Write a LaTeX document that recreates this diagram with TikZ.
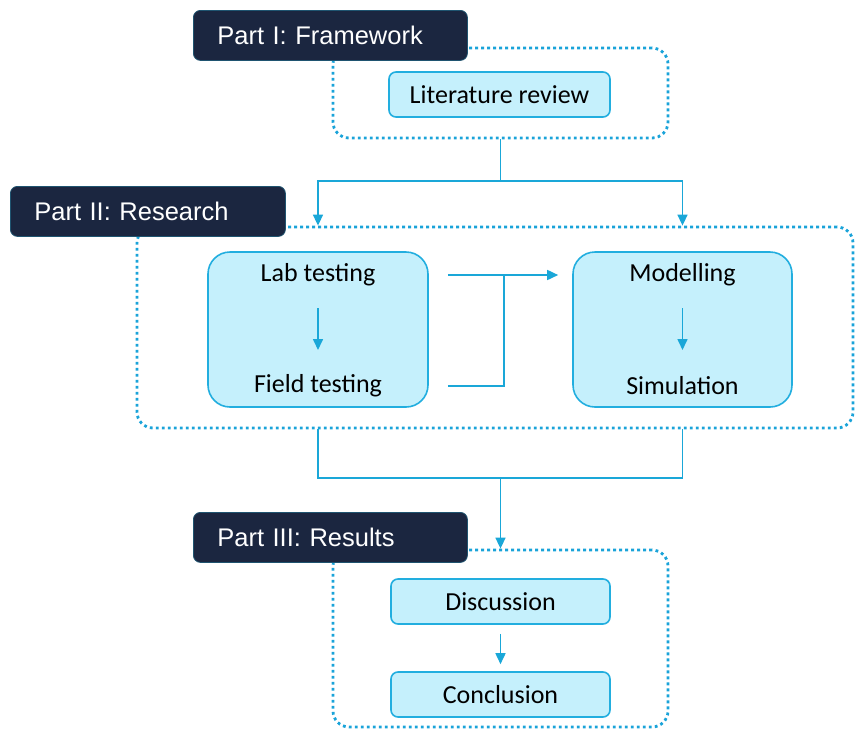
\documentclass[tikz,border=0pt]{standalone}
\usepackage{fontspec}
\setmainfont{Carlito}
\newfontfamily\hdrfont{Liberation Sans}
\usetikzlibrary{calc,arrows.meta}
\definecolor{navy}{HTML}{1B2640}
\definecolor{navyedge}{HTML}{1F5470}
\definecolor{dotc}{HTML}{1AA3D9}
\definecolor{boxfill}{HTML}{C5F0FC}
\definecolor{boxedge}{HTML}{22AEDF}
\definecolor{linec}{HTML}{1AA7D8}
\tikzset{
  grp/.style={draw=dotc, line width=2.8pt, dash pattern=on 2.8pt off 3.2pt, rounded corners=16pt, inner sep=0pt},
  hdr/.style={draw=navyedge, line width=0.8pt, fill=navy, rounded corners=7pt, text=white, font=\hdrfont\fontsize{25.5}{28}\selectfont, align=left, inner xsep=24pt, inner ysep=0pt, minimum height=50pt, anchor=north west},
  boxa/.style={draw=boxedge, line width=1.6pt, fill=boxfill, rounded corners=7pt, inner sep=0pt},
  boxb/.style={draw=boxedge, line width=1.6pt, fill=boxfill, rounded corners=22pt, inner sep=0pt},
  txt/.style={font=\fontsize{26}{30}\selectfont, inner sep=0pt},
  con/.style={draw=linec, line width=1.6pt},
  arr/.style={con, -{Triangle[length=11pt,width=10pt]}},
}
\begin{document}
\begin{tikzpicture}[x=1pt,y=1pt]
\useasboundingbox (0,0) rectangle (855,-729);
% group frames
\node[grp, minimum width=335pt, minimum height=90pt] (g1) at (500.5,-93) {};
\node[grp, minimum width=716pt, minimum height=201pt] (g2) at (495,-327.5) {};
\node[grp, minimum width=335pt, minimum height=177pt] (g3) at (500.5,-638.5) {};
% headers
\node[hdr, text width=226pt] (h1) at (193,-10) {Part I: Framework};
\node[hdr, text width=227pt] (h2) at (10,-186) {Part II: Research};
\node[hdr, text width=226pt] (h3) at (193,-512) {Part III: Results};
% boxes
\node[boxa, minimum width=221pt, minimum height=45pt, txt] (lit) at (499.5,-94.5) {Literature review};
\node[boxb, minimum width=220pt, minimum height=155pt] (lab) at (318,-329.5) {};
\node[boxb, minimum width=219pt, minimum height=155pt] (mod) at (682.5,-329.5) {};
\node[txt] (lt) at (318,-275) {Lab testing};
\node[txt] (ft) at (318,-386) {Field testing};
\node[txt] (mt) at (682.5,-275) {Modelling};
\node[txt] (st) at (682.5,-386) {Simulation};
\node[boxa, minimum width=219pt, minimum height=45pt, txt] (dis) at (500.5,-601.5) {Discussion};
\node[boxa, minimum width=219pt, minimum height=45pt, txt] (con) at (500.5,-694.5) {Conclusion};
% connectors
\coordinate (j1) at (g1.south |- 0,-181);
\draw[con] (g1.south) -- (j1);
\draw[arr] (j1) -| (lab |- g2.north);
\draw[arr] (j1) -| (mod |- g2.north);
\draw[arr, shorten <=33pt, shorten >=36pt] (lt.center) -- (ft.center);
\draw[arr, shorten <=33pt, shorten >=36pt] (mt.center) -- (st.center);
\draw[arr] ($(lab.east |- lt)+(19,0)$) -- ($(mod.west |- lt)+(-14,0)$);
\draw[con] ($(lab.east |- ft)+(19,0)$) -| ($(lab.east |- lt)+(75,0)$);
\coordinate (j2) at (g3.north |- 0,-478);
\draw[con] (lab |- g2.south) |- (j2) -| (mod |- g2.south);
\draw[arr] (j2) -- (g3.north);
\draw[arr, shorten <=9pt, shorten >=7pt] (dis) -- (con);
\end{tikzpicture}
\end{document}
